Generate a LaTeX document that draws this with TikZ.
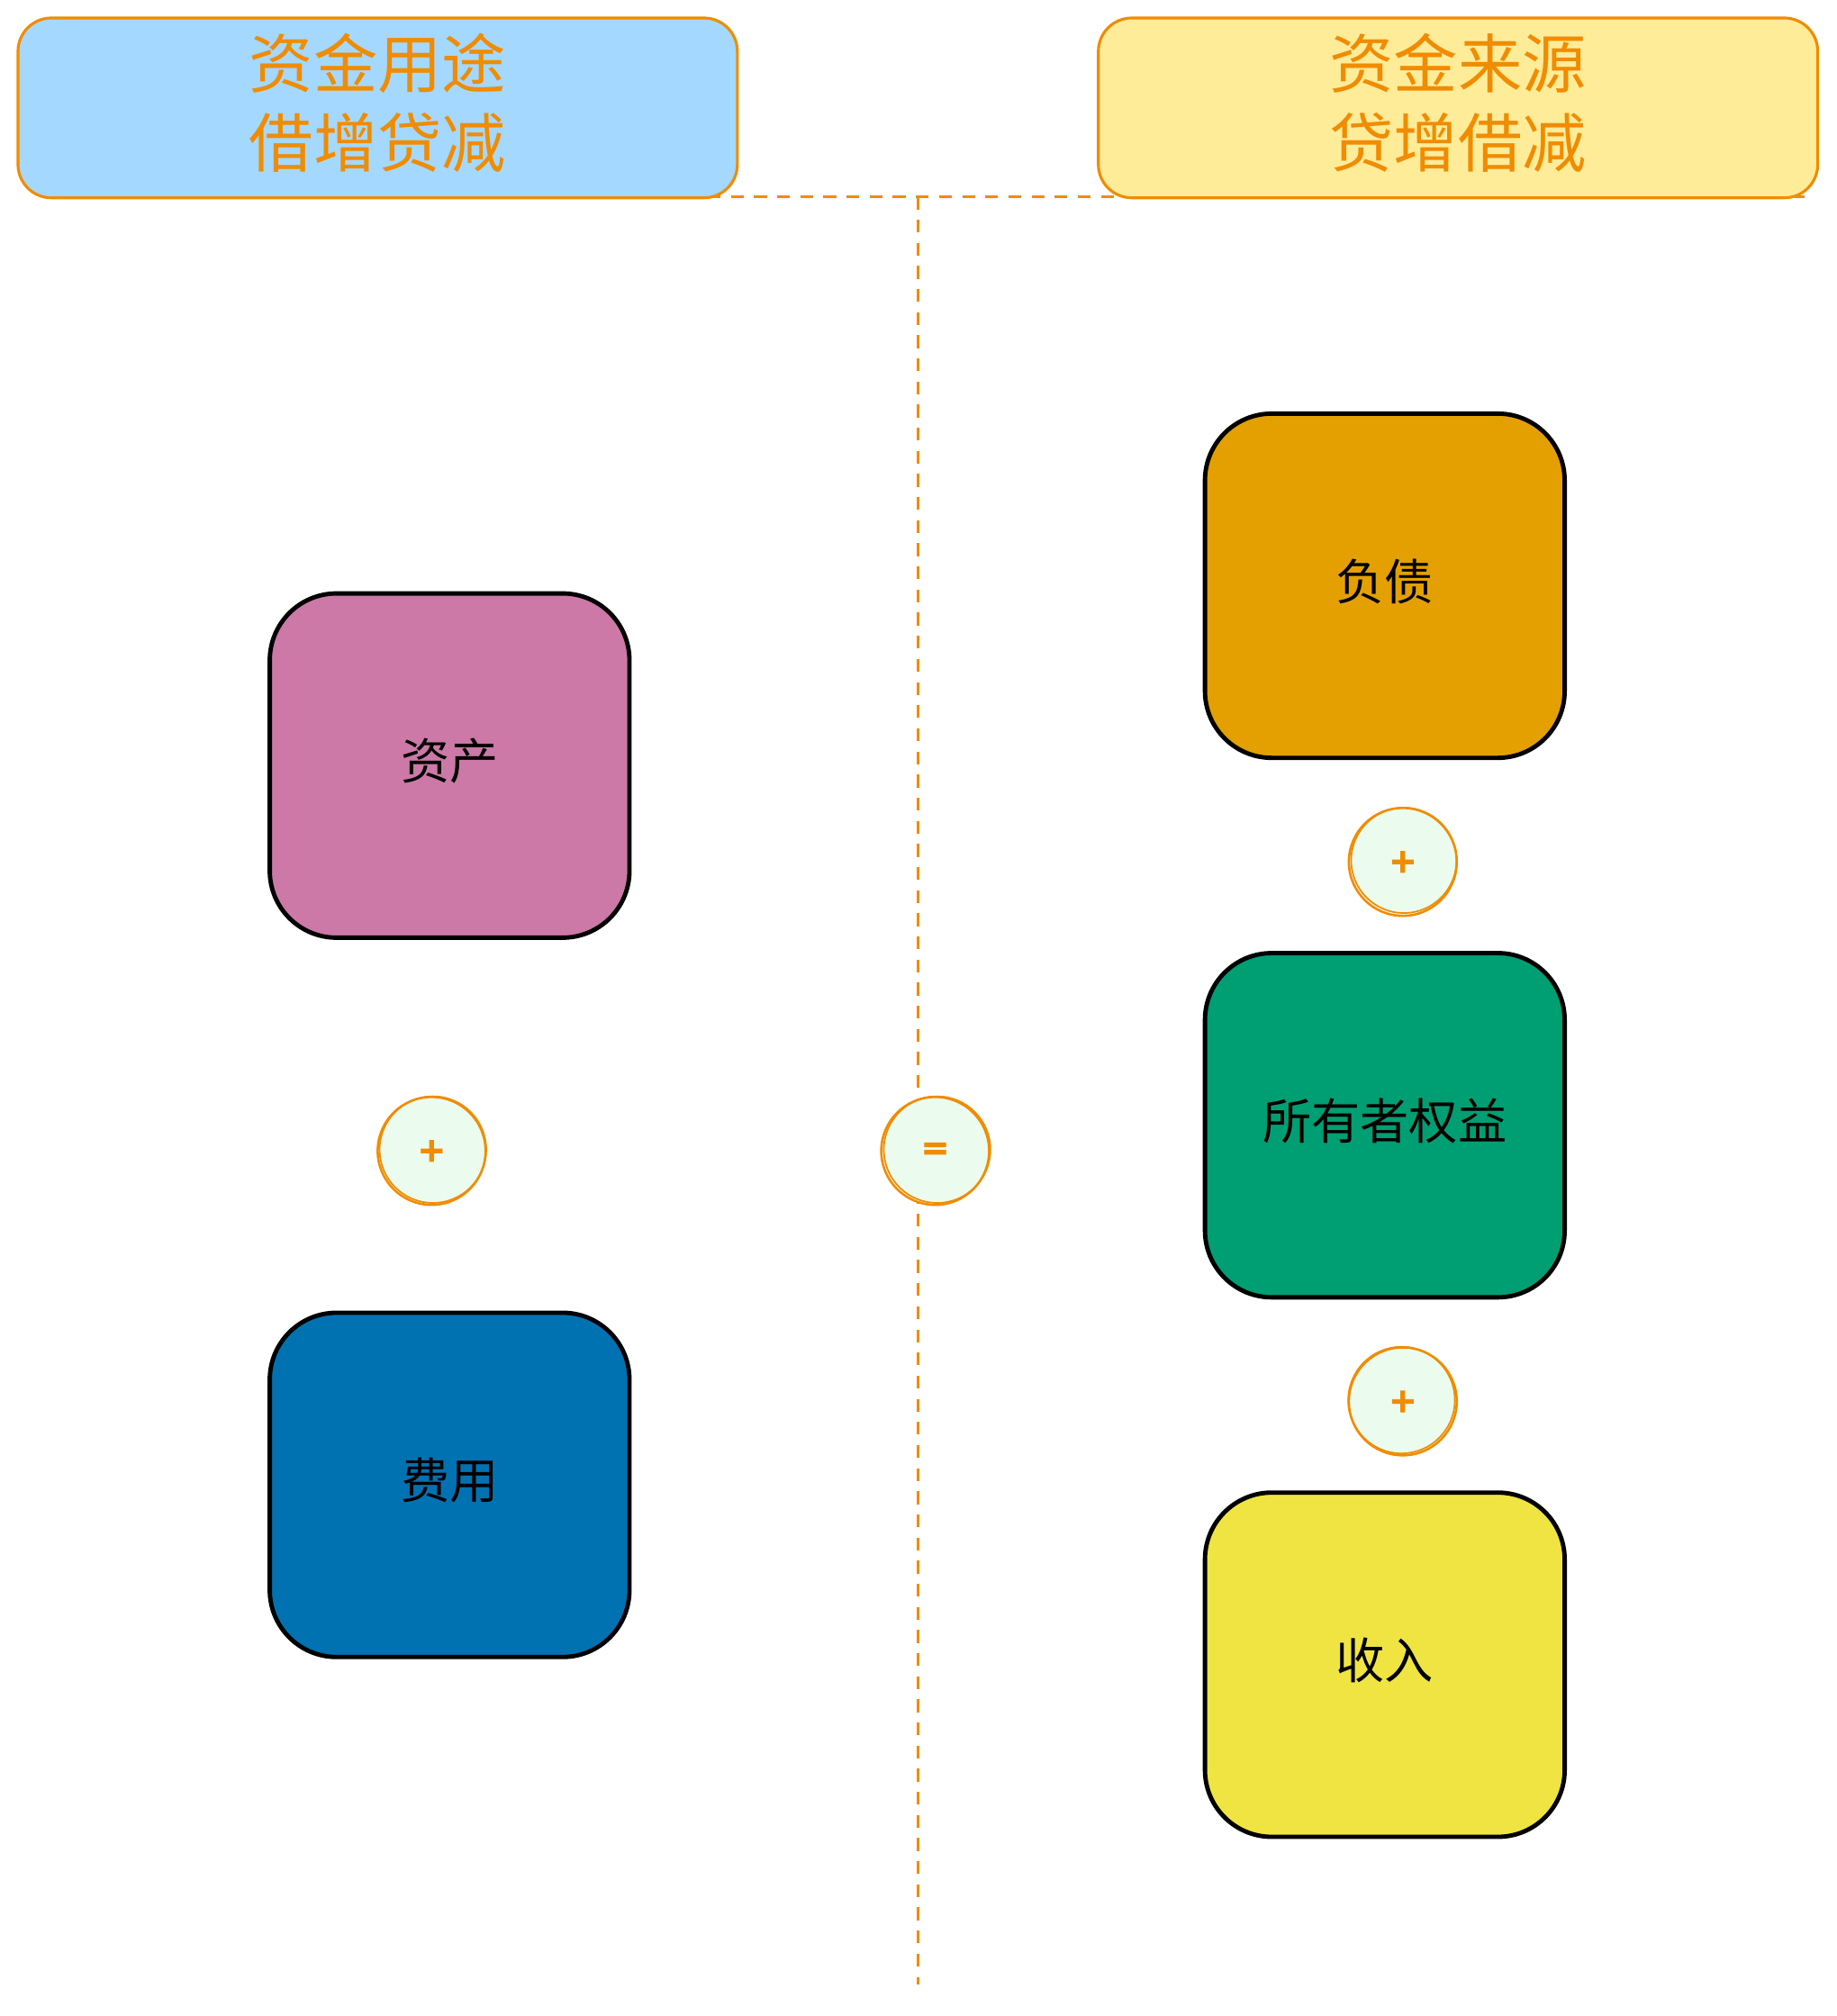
\documentclass[tikz,border=0pt]{standalone}
\usepackage{fontspec}
\setmainfont{Noto Sans CJK SC}
\newfontfamily\opfont[FakeBold=2.5]{DejaVu Sans}
\definecolor{orng}{HTML}{F08C00}
\definecolor{hdblue}{HTML}{A5D8FF}
\definecolor{hdyellow}{HTML}{FFEC99}
\definecolor{cpink}{HTML}{CC79A7}
\definecolor{cblue}{HTML}{0072B2}
\definecolor{corange}{HTML}{E3A000}
\definecolor{cgreen}{HTML}{009E73}
\definecolor{cyellow}{HTML}{F0E442}
\definecolor{cmint}{HTML}{EBFBEE}
\tikzset{
  header/.style={draw=orng, line width=2.2pt, rounded corners=26pt, minimum width=560pt, minimum height=140pt, inner sep=0pt},
  headtext/.style={text=orng, font=\fontsize{50}{62}\selectfont, align=center, inner sep=0pt},
  acct/.style={draw=black, line width=3.4pt, rounded corners=52pt, minimum width=280pt, minimum height=268pt,
    text=black, font=\fontsize{38}{46}\selectfont, inner sep=0pt, text height=33pt, text depth=11pt},
  opcirc/.style={circle, draw=orng, fill=cmint, line width=1.8pt, minimum size=84pt, inner sep=0pt,
    text=orng, font=\opfont\bfseries\fontsize{26}{26}\selectfont},
  sketch/.style={draw=orng, line width=1.2pt},
  divider/.style={draw=orng, line width=2pt, dash pattern=on 10pt off 8pt}
}
\begin{document}
\begin{tikzpicture}[x=1pt,y=-1pt]
\useasboundingbox (0,0) rectangle (1430,1569.5);
% divider lines
\coordinate (hl) at (155,153);
\coordinate (hr) at (1405,153);
\coordinate (vt) at (714.5,153);
\coordinate (vb) at (714.5,1545);
\draw[divider] (hl) -- (hr);
\draw[divider] (vt) -- (vb);
% headers
\node[header, fill=hdblue] (use) at (294,84) {};
\node[headtext] (usetext) at (294,80) {资金用途\\借增贷减};
\node[header, fill=hdyellow] (src) at (1135,84) {};
\node[headtext] (srctext) at (1135,80) {资金来源\\贷增借减};
% left column
\node[acct, fill=cpink] (asset) at (350,596) {资产};
\node[opcirc] (plusL) at (336,896) {+};
\draw[sketch] ([shift={(1,-1)}]plusL.center) circle[radius=41.5pt];
\node[acct, fill=cblue] (expense) at (350,1156) {费用};
% equals
\node[opcirc] (eq) at (728,896) {=};
\draw[sketch] ([shift={(1.5,-1)}]eq.center) circle[radius=41.5pt];
% right column
\node[acct, fill=corange] (liab) at (1078,456) {负债};
\node[opcirc] (plusR1) at (1092,671) {+};
\draw[sketch] ([shift={(0.8,-1.2)}]plusR1.center) circle[radius=41pt];
\node[acct, fill=cgreen] (equity) at (1078,876) {所有者权益};
\node[opcirc] (plusR2) at (1092,1091) {+};
\draw[sketch] ([shift={(-1,-1)}]plusR2.center) circle[radius=41.5pt];
\node[acct, fill=cyellow] (income) at (1078,1296) {收入};
\end{tikzpicture}
\end{document}
